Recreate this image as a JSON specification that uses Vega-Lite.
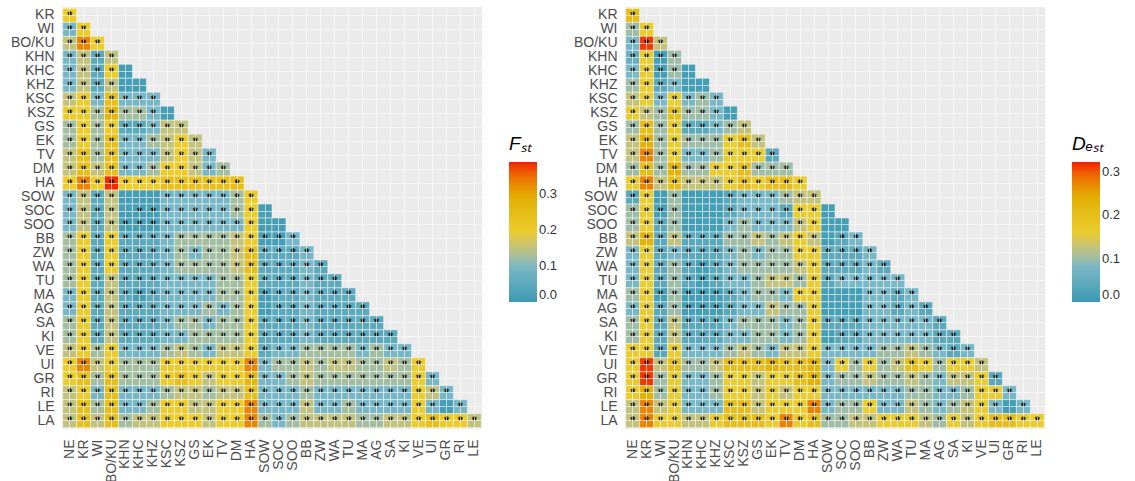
{
"$schema": "https://vega.github.io/schema/vega-lite/v6.json",
"padding": {"left": 10, "top": 7, "right": 5, "bottom": 0},
"background": "white",
"config": {
  "view": {"fill": "#EBEBEB", "stroke": null},
  "axis": {"labelFont": "Liberation Sans", "labelFontSize": 14, "labelColor": "#4D4D4D", "ticks": false, "domain": false, "title": null, "grid": true, "gridColor": "#FFFFFF", "gridWidth": 0.6, "labelPadding": 8},
  "legend": {"orient": "none", "legendX": 447, "legendY": 128, "gradientLength": 140, "gradientThickness": 28, "gradientStrokeWidth": 0, "titleFont": "Liberation Sans", "titleFontSize": 19, "titleFontStyle": "italic", "titleFontWeight": "normal", "titleColor": "black", "titlePadding": 8, "labelFont": "Liberation Sans", "labelFontSize": 13, "labelColor": "#333333", "labelOverlap": false, "labelOffset": 8, "padding": 0}
},
"datasets": {"pw": [
{"r":"KR","c":"NE","f":0.195,"fs":1,"d":0.2,"ds":1},
{"r":"WI","c":"NE","f":0.095,"fs":1,"d":0.1,"ds":1},
{"r":"WI","c":"KR","f":0.195,"fs":1,"d":0.16,"ds":1},
{"r":"BO/KU","c":"NE","f":0.15,"fs":1,"d":0.08,"ds":1},
{"r":"BO/KU","c":"KR","f":0.33,"fs":1,"d":0.315,"ds":1},
{"r":"BO/KU","c":"WI","f":0.195,"fs":1,"d":0.125,"ds":1},
{"r":"KHN","c":"NE","f":0.095,"fs":1,"d":0.06,"ds":1},
{"r":"KHN","c":"KR","f":0.15,"fs":1,"d":0.16,"ds":1},
{"r":"KHN","c":"WI","f":0.05,"fs":1,"d":0.01,"ds":1},
{"r":"KHN","c":"BO/KU","f":0.15,"fs":1,"d":0.1,"ds":1},
{"r":"KHC","c":"NE","f":0.095,"fs":1,"d":0.08,"ds":1},
{"r":"KHC","c":"KR","f":0.15,"fs":1,"d":0.16,"ds":1},
{"r":"KHC","c":"WI","f":0.05,"fs":1,"d":0.01,"ds":1},
{"r":"KHC","c":"BO/KU","f":0.195,"fs":1,"d":0.1,"ds":1},
{"r":"KHC","c":"KHN","f":0.015,"fs":0,"d":0.01,"ds":0},
{"r":"KHZ","c":"NE","f":0.095,"fs":1,"d":0.1,"ds":1},
{"r":"KHZ","c":"KR","f":0.15,"fs":1,"d":0.16,"ds":1},
{"r":"KHZ","c":"WI","f":0.05,"fs":1,"d":0.04,"ds":1},
{"r":"KHZ","c":"BO/KU","f":0.15,"fs":1,"d":0.08,"ds":1},
{"r":"KHZ","c":"KHN","f":0.015,"fs":0,"d":0.01,"ds":0},
{"r":"KHZ","c":"KHC","f":0.015,"fs":0,"d":0.01,"ds":0},
{"r":"KSC","c":"NE","f":0.15,"fs":1,"d":0.125,"ds":1},
{"r":"KSC","c":"KR","f":0.195,"fs":1,"d":0.16,"ds":1},
{"r":"KSC","c":"WI","f":0.095,"fs":1,"d":0.08,"ds":1},
{"r":"KSC","c":"BO/KU","f":0.24,"fs":1,"d":0.16,"ds":1},
{"r":"KSC","c":"KHN","f":0.095,"fs":1,"d":0.08,"ds":1},
{"r":"KSC","c":"KHC","f":0.095,"fs":1,"d":0.1,"ds":1},
{"r":"KSC","c":"KHZ","f":0.095,"fs":1,"d":0.08,"ds":1},
{"r":"KSZ","c":"NE","f":0.195,"fs":1,"d":0.16,"ds":1},
{"r":"KSZ","c":"KR","f":0.195,"fs":1,"d":0.125,"ds":1},
{"r":"KSZ","c":"WI","f":0.125,"fs":1,"d":0.1,"ds":1},
{"r":"KSZ","c":"BO/KU","f":0.27,"fs":1,"d":0.2,"ds":1},
{"r":"KSZ","c":"KHN","f":0.125,"fs":1,"d":0.1,"ds":1},
{"r":"KSZ","c":"KHC","f":0.125,"fs":1,"d":0.1,"ds":1},
{"r":"KSZ","c":"KHZ","f":0.095,"fs":1,"d":0.08,"ds":1},
{"r":"KSZ","c":"KSC","f":0.015,"fs":0,"d":0.01,"ds":0},
{"r":"GS","c":"NE","f":0.125,"fs":1,"d":0.1,"ds":1},
{"r":"GS","c":"KR","f":0.195,"fs":1,"d":0.2,"ds":1},
{"r":"GS","c":"WI","f":0.125,"fs":1,"d":0.1,"ds":1},
{"r":"GS","c":"BO/KU","f":0.195,"fs":1,"d":0.16,"ds":1},
{"r":"GS","c":"KHN","f":0.05,"fs":1,"d":0.04,"ds":1},
{"r":"GS","c":"KHC","f":0.05,"fs":1,"d":0.04,"ds":1},
{"r":"GS","c":"KHZ","f":0.095,"fs":1,"d":0.08,"ds":1},
{"r":"GS","c":"KSC","f":0.15,"fs":1,"d":0.1,"ds":1},
{"r":"GS","c":"KSZ","f":0.15,"fs":1,"d":0.125,"ds":1},
{"r":"EK","c":"NE","f":0.125,"fs":1,"d":0.125,"ds":1},
{"r":"EK","c":"KR","f":0.195,"fs":1,"d":0.235,"ds":1},
{"r":"EK","c":"WI","f":0.125,"fs":1,"d":0.1,"ds":1},
{"r":"EK","c":"BO/KU","f":0.24,"fs":1,"d":0.16,"ds":1},
{"r":"EK","c":"KHN","f":0.095,"fs":1,"d":0.1,"ds":1},
{"r":"EK","c":"KHC","f":0.095,"fs":1,"d":0.1,"ds":1},
{"r":"EK","c":"KHZ","f":0.125,"fs":1,"d":0.1,"ds":1},
{"r":"EK","c":"KSC","f":0.15,"fs":1,"d":0.16,"ds":1},
{"r":"EK","c":"KSZ","f":0.195,"fs":1,"d":0.2,"ds":1},
{"r":"EK","c":"GS","f":0.15,"fs":1,"d":0.125,"ds":1},
{"r":"TV","c":"NE","f":0.15,"fs":1,"d":0.125,"ds":1},
{"r":"TV","c":"KR","f":0.24,"fs":1,"d":0.275,"ds":1},
{"r":"TV","c":"WI","f":0.125,"fs":1,"d":0.1,"ds":1},
{"r":"TV","c":"BO/KU","f":0.24,"fs":1,"d":0.16,"ds":1},
{"r":"TV","c":"KHN","f":0.095,"fs":1,"d":0.08,"ds":1},
{"r":"TV","c":"KHC","f":0.095,"fs":1,"d":0.08,"ds":1},
{"r":"TV","c":"KHZ","f":0.095,"fs":1,"d":0.1,"ds":1},
{"r":"TV","c":"KSC","f":0.15,"fs":1,"d":0.16,"ds":1},
{"r":"TV","c":"KSZ","f":0.195,"fs":1,"d":0.16,"ds":1},
{"r":"TV","c":"GS","f":0.15,"fs":1,"d":0.16,"ds":1},
{"r":"TV","c":"EK","f":0.095,"fs":1,"d":0.04,"ds":1},
{"r":"DM","c":"NE","f":0.15,"fs":1,"d":0.1,"ds":1},
{"r":"DM","c":"KR","f":0.24,"fs":1,"d":0.2,"ds":1},
{"r":"DM","c":"WI","f":0.15,"fs":1,"d":0.1,"ds":1},
{"r":"DM","c":"BO/KU","f":0.24,"fs":1,"d":0.235,"ds":1},
{"r":"DM","c":"KHN","f":0.095,"fs":1,"d":0.1,"ds":1},
{"r":"DM","c":"KHC","f":0.095,"fs":1,"d":0.1,"ds":1},
{"r":"DM","c":"KHZ","f":0.125,"fs":1,"d":0.16,"ds":1},
{"r":"DM","c":"KSC","f":0.195,"fs":1,"d":0.16,"ds":1},
{"r":"DM","c":"KSZ","f":0.195,"fs":1,"d":0.2,"ds":1},
{"r":"DM","c":"GS","f":0.15,"fs":1,"d":0.1,"ds":1},
{"r":"DM","c":"EK","f":0.095,"fs":1,"d":0.1,"ds":1},
{"r":"DM","c":"TV","f":0.125,"fs":1,"d":0.1,"ds":1},
{"r":"HA","c":"NE","f":0.195,"fs":1,"d":0.16,"ds":1},
{"r":"HA","c":"KR","f":0.33,"fs":1,"d":0.275,"ds":1},
{"r":"HA","c":"WI","f":0.195,"fs":1,"d":0.125,"ds":1},
{"r":"HA","c":"BO/KU","f":0.385,"fs":1,"d":0.2,"ds":1},
{"r":"HA","c":"KHN","f":0.195,"fs":1,"d":0.125,"ds":1},
{"r":"HA","c":"KHC","f":0.195,"fs":1,"d":0.125,"ds":1},
{"r":"HA","c":"KHZ","f":0.195,"fs":1,"d":0.125,"ds":1},
{"r":"HA","c":"KSC","f":0.24,"fs":1,"d":0.16,"ds":1},
{"r":"HA","c":"KSZ","f":0.24,"fs":1,"d":0.2,"ds":1},
{"r":"HA","c":"GS","f":0.24,"fs":1,"d":0.16,"ds":1},
{"r":"HA","c":"EK","f":0.24,"fs":1,"d":0.2,"ds":1},
{"r":"HA","c":"TV","f":0.24,"fs":1,"d":0.2,"ds":1},
{"r":"HA","c":"DM","f":0.24,"fs":1,"d":0.16,"ds":1},
{"r":"SOW","c":"NE","f":0.095,"fs":1,"d":0.04,"ds":1},
{"r":"SOW","c":"KR","f":0.15,"fs":1,"d":0.16,"ds":1},
{"r":"SOW","c":"WI","f":0.05,"fs":1,"d":0.01,"ds":0},
{"r":"SOW","c":"BO/KU","f":0.15,"fs":1,"d":0.1,"ds":1},
{"r":"SOW","c":"KHN","f":0.015,"fs":0,"d":0.01,"ds":0},
{"r":"SOW","c":"KHC","f":0.015,"fs":0,"d":0.01,"ds":0},
{"r":"SOW","c":"KHZ","f":0.015,"fs":0,"d":0.01,"ds":0},
{"r":"SOW","c":"KSC","f":0.095,"fs":1,"d":0.04,"ds":1},
{"r":"SOW","c":"KSZ","f":0.095,"fs":1,"d":0.08,"ds":1},
{"r":"SOW","c":"GS","f":0.095,"fs":1,"d":0.08,"ds":1},
{"r":"SOW","c":"EK","f":0.095,"fs":1,"d":0.08,"ds":1},
{"r":"SOW","c":"TV","f":0.095,"fs":1,"d":0.1,"ds":1},
{"r":"SOW","c":"DM","f":0.125,"fs":1,"d":0.125,"ds":1},
{"r":"SOW","c":"HA","f":0.195,"fs":1,"d":0.125,"ds":1},
{"r":"SOC","c":"NE","f":0.095,"fs":1,"d":0.1,"ds":1},
{"r":"SOC","c":"KR","f":0.15,"fs":1,"d":0.16,"ds":1},
{"r":"SOC","c":"WI","f":0.05,"fs":1,"d":0.01,"ds":1},
{"r":"SOC","c":"BO/KU","f":0.15,"fs":1,"d":0.1,"ds":1},
{"r":"SOC","c":"KHN","f":0.015,"fs":0,"d":0.01,"ds":0},
{"r":"SOC","c":"KHC","f":0.015,"fs":1,"d":0.01,"ds":0},
{"r":"SOC","c":"KHZ","f":0.015,"fs":1,"d":0.01,"ds":0},
{"r":"SOC","c":"KSC","f":0.095,"fs":1,"d":0.04,"ds":1},
{"r":"SOC","c":"KSZ","f":0.095,"fs":1,"d":0.08,"ds":1},
{"r":"SOC","c":"GS","f":0.095,"fs":1,"d":0.08,"ds":1},
{"r":"SOC","c":"EK","f":0.095,"fs":1,"d":0.08,"ds":1},
{"r":"SOC","c":"TV","f":0.095,"fs":1,"d":0.04,"ds":1},
{"r":"SOC","c":"DM","f":0.125,"fs":1,"d":0.16,"ds":1},
{"r":"SOC","c":"HA","f":0.195,"fs":1,"d":0.16,"ds":1},
{"r":"SOC","c":"SOW","f":0.015,"fs":0,"d":0.01,"ds":0},
{"r":"SOO","c":"NE","f":0.095,"fs":1,"d":0.1,"ds":1},
{"r":"SOO","c":"KR","f":0.15,"fs":1,"d":0.16,"ds":1},
{"r":"SOO","c":"WI","f":0.05,"fs":1,"d":0.04,"ds":1},
{"r":"SOO","c":"BO/KU","f":0.15,"fs":1,"d":0.1,"ds":1},
{"r":"SOO","c":"KHN","f":0.015,"fs":1,"d":0.01,"ds":0},
{"r":"SOO","c":"KHC","f":0.015,"fs":1,"d":0.01,"ds":0},
{"r":"SOO","c":"KHZ","f":0.015,"fs":1,"d":0.01,"ds":0},
{"r":"SOO","c":"KSC","f":0.095,"fs":1,"d":0.08,"ds":1},
{"r":"SOO","c":"KSZ","f":0.095,"fs":1,"d":0.1,"ds":1},
{"r":"SOO","c":"GS","f":0.095,"fs":1,"d":0.08,"ds":1},
{"r":"SOO","c":"EK","f":0.095,"fs":1,"d":0.08,"ds":1},
{"r":"SOO","c":"TV","f":0.095,"fs":1,"d":0.08,"ds":1},
{"r":"SOO","c":"DM","f":0.095,"fs":1,"d":0.125,"ds":1},
{"r":"SOO","c":"HA","f":0.195,"fs":1,"d":0.16,"ds":1},
{"r":"SOO","c":"SOW","f":0.015,"fs":0,"d":0.01,"ds":0},
{"r":"SOO","c":"SOC","f":0.015,"fs":0,"d":0.01,"ds":0},
{"r":"BB","c":"NE","f":0.125,"fs":1,"d":0.125,"ds":1},
{"r":"BB","c":"KR","f":0.195,"fs":1,"d":0.235,"ds":1},
{"r":"BB","c":"WI","f":0.05,"fs":1,"d":0.04,"ds":1},
{"r":"BB","c":"BO/KU","f":0.195,"fs":1,"d":0.125,"ds":1},
{"r":"BB","c":"KHN","f":0.05,"fs":1,"d":0.04,"ds":1},
{"r":"BB","c":"KHC","f":0.05,"fs":1,"d":0.04,"ds":1},
{"r":"BB","c":"KHZ","f":0.05,"fs":1,"d":0.04,"ds":1},
{"r":"BB","c":"KSC","f":0.095,"fs":1,"d":0.1,"ds":1},
{"r":"BB","c":"KSZ","f":0.125,"fs":1,"d":0.1,"ds":1},
{"r":"BB","c":"GS","f":0.125,"fs":1,"d":0.125,"ds":1},
{"r":"BB","c":"EK","f":0.125,"fs":1,"d":0.1,"ds":1},
{"r":"BB","c":"TV","f":0.125,"fs":1,"d":0.125,"ds":1},
{"r":"BB","c":"DM","f":0.15,"fs":1,"d":0.16,"ds":1},
{"r":"BB","c":"HA","f":0.195,"fs":1,"d":0.125,"ds":1},
{"r":"BB","c":"SOW","f":0.015,"fs":1,"d":0.01,"ds":0},
{"r":"BB","c":"SOC","f":0.015,"fs":1,"d":0.04,"ds":1},
{"r":"BB","c":"SOO","f":0.095,"fs":1,"d":0.08,"ds":1},
{"r":"ZW","c":"NE","f":0.125,"fs":1,"d":0.08,"ds":1},
{"r":"ZW","c":"KR","f":0.195,"fs":1,"d":0.16,"ds":1},
{"r":"ZW","c":"WI","f":0.05,"fs":1,"d":0.04,"ds":1},
{"r":"ZW","c":"BO/KU","f":0.195,"fs":1,"d":0.08,"ds":1},
{"r":"ZW","c":"KHN","f":0.05,"fs":1,"d":0.04,"ds":1},
{"r":"ZW","c":"KHC","f":0.05,"fs":1,"d":0.04,"ds":1},
{"r":"ZW","c":"KHZ","f":0.05,"fs":1,"d":0.04,"ds":1},
{"r":"ZW","c":"KSC","f":0.095,"fs":1,"d":0.08,"ds":1},
{"r":"ZW","c":"KSZ","f":0.125,"fs":1,"d":0.1,"ds":1},
{"r":"ZW","c":"GS","f":0.095,"fs":1,"d":0.08,"ds":1},
{"r":"ZW","c":"EK","f":0.125,"fs":1,"d":0.1,"ds":1},
{"r":"ZW","c":"TV","f":0.125,"fs":1,"d":0.1,"ds":1},
{"r":"ZW","c":"DM","f":0.15,"fs":1,"d":0.16,"ds":1},
{"r":"ZW","c":"HA","f":0.24,"fs":1,"d":0.16,"ds":1},
{"r":"ZW","c":"SOW","f":0.05,"fs":1,"d":0.04,"ds":1},
{"r":"ZW","c":"SOC","f":0.05,"fs":1,"d":0.04,"ds":1},
{"r":"ZW","c":"SOO","f":0.05,"fs":1,"d":0.04,"ds":1},
{"r":"ZW","c":"BB","f":0.095,"fs":1,"d":0.08,"ds":1},
{"r":"WA","c":"NE","f":0.125,"fs":1,"d":0.08,"ds":1},
{"r":"WA","c":"KR","f":0.195,"fs":1,"d":0.16,"ds":1},
{"r":"WA","c":"WI","f":0.05,"fs":1,"d":0.04,"ds":1},
{"r":"WA","c":"BO/KU","f":0.195,"fs":1,"d":0.1,"ds":1},
{"r":"WA","c":"KHN","f":0.05,"fs":1,"d":0.04,"ds":1},
{"r":"WA","c":"KHC","f":0.05,"fs":1,"d":0.01,"ds":1},
{"r":"WA","c":"KHZ","f":0.05,"fs":1,"d":0.04,"ds":1},
{"r":"WA","c":"KSC","f":0.095,"fs":1,"d":0.08,"ds":1},
{"r":"WA","c":"KSZ","f":0.125,"fs":1,"d":0.1,"ds":1},
{"r":"WA","c":"GS","f":0.125,"fs":1,"d":0.1,"ds":1},
{"r":"WA","c":"EK","f":0.125,"fs":1,"d":0.1,"ds":1},
{"r":"WA","c":"TV","f":0.125,"fs":1,"d":0.1,"ds":1},
{"r":"WA","c":"DM","f":0.15,"fs":1,"d":0.125,"ds":1},
{"r":"WA","c":"HA","f":0.24,"fs":1,"d":0.16,"ds":1},
{"r":"WA","c":"SOW","f":0.05,"fs":1,"d":0.04,"ds":1},
{"r":"WA","c":"SOC","f":0.05,"fs":1,"d":0.04,"ds":1},
{"r":"WA","c":"SOO","f":0.05,"fs":1,"d":0.04,"ds":1},
{"r":"WA","c":"BB","f":0.095,"fs":1,"d":0.08,"ds":1},
{"r":"WA","c":"ZW","f":0.05,"fs":1,"d":0.04,"ds":1},
{"r":"TU","c":"NE","f":0.125,"fs":1,"d":0.08,"ds":1},
{"r":"TU","c":"KR","f":0.195,"fs":1,"d":0.16,"ds":1},
{"r":"TU","c":"WI","f":0.05,"fs":1,"d":0.04,"ds":1},
{"r":"TU","c":"BO/KU","f":0.15,"fs":1,"d":0.1,"ds":1},
{"r":"TU","c":"KHN","f":0.05,"fs":1,"d":0.04,"ds":1},
{"r":"TU","c":"KHC","f":0.05,"fs":1,"d":0.01,"ds":1},
{"r":"TU","c":"KHZ","f":0.05,"fs":1,"d":0.04,"ds":1},
{"r":"TU","c":"KSC","f":0.095,"fs":1,"d":0.08,"ds":1},
{"r":"TU","c":"KSZ","f":0.095,"fs":1,"d":0.08,"ds":1},
{"r":"TU","c":"GS","f":0.095,"fs":1,"d":0.1,"ds":1},
{"r":"TU","c":"EK","f":0.095,"fs":1,"d":0.125,"ds":1},
{"r":"TU","c":"TV","f":0.125,"fs":1,"d":0.125,"ds":1},
{"r":"TU","c":"DM","f":0.125,"fs":1,"d":0.1,"ds":1},
{"r":"TU","c":"HA","f":0.195,"fs":1,"d":0.16,"ds":1},
{"r":"TU","c":"SOW","f":0.05,"fs":1,"d":0.04,"ds":1},
{"r":"TU","c":"SOC","f":0.05,"fs":1,"d":0.08,"ds":1},
{"r":"TU","c":"SOO","f":0.05,"fs":1,"d":0.08,"ds":1},
{"r":"TU","c":"BB","f":0.095,"fs":1,"d":0.08,"ds":1},
{"r":"TU","c":"ZW","f":0.05,"fs":1,"d":0.08,"ds":1},
{"r":"TU","c":"WA","f":0.05,"fs":1,"d":0.08,"ds":1},
{"r":"MA","c":"NE","f":0.095,"fs":1,"d":0.1,"ds":1},
{"r":"MA","c":"KR","f":0.195,"fs":1,"d":0.16,"ds":1},
{"r":"MA","c":"WI","f":0.05,"fs":1,"d":0.01,"ds":1},
{"r":"MA","c":"BO/KU","f":0.15,"fs":1,"d":0.1,"ds":1},
{"r":"MA","c":"KHN","f":0.05,"fs":1,"d":0.01,"ds":1},
{"r":"MA","c":"KHC","f":0.015,"fs":1,"d":0.01,"ds":1},
{"r":"MA","c":"KHZ","f":0.05,"fs":1,"d":0.01,"ds":1},
{"r":"MA","c":"KSC","f":0.095,"fs":1,"d":0.04,"ds":1},
{"r":"MA","c":"KSZ","f":0.095,"fs":1,"d":0.08,"ds":1},
{"r":"MA","c":"GS","f":0.095,"fs":1,"d":0.1,"ds":1},
{"r":"MA","c":"EK","f":0.095,"fs":1,"d":0.1,"ds":1},
{"r":"MA","c":"TV","f":0.125,"fs":1,"d":0.08,"ds":1},
{"r":"MA","c":"DM","f":0.125,"fs":1,"d":0.16,"ds":1},
{"r":"MA","c":"HA","f":0.195,"fs":1,"d":0.16,"ds":1},
{"r":"MA","c":"SOW","f":0.015,"fs":1,"d":0.01,"ds":0},
{"r":"MA","c":"SOC","f":0.05,"fs":1,"d":0.01,"ds":0},
{"r":"MA","c":"SOO","f":0.05,"fs":1,"d":0.01,"ds":0},
{"r":"MA","c":"BB","f":0.095,"fs":1,"d":0.08,"ds":1},
{"r":"MA","c":"ZW","f":0.05,"fs":1,"d":0.08,"ds":1},
{"r":"MA","c":"WA","f":0.05,"fs":1,"d":0.04,"ds":1},
{"r":"MA","c":"TU","f":0.05,"fs":1,"d":0.08,"ds":1},
{"r":"AG","c":"NE","f":0.095,"fs":1,"d":0.08,"ds":1},
{"r":"AG","c":"KR","f":0.195,"fs":1,"d":0.16,"ds":1},
{"r":"AG","c":"WI","f":0.05,"fs":1,"d":0.04,"ds":1},
{"r":"AG","c":"BO/KU","f":0.15,"fs":1,"d":0.1,"ds":1},
{"r":"AG","c":"KHN","f":0.05,"fs":1,"d":0.01,"ds":1},
{"r":"AG","c":"KHC","f":0.05,"fs":1,"d":0.01,"ds":1},
{"r":"AG","c":"KHZ","f":0.05,"fs":1,"d":0.01,"ds":1},
{"r":"AG","c":"KSC","f":0.095,"fs":1,"d":0.04,"ds":1},
{"r":"AG","c":"KSZ","f":0.095,"fs":1,"d":0.08,"ds":1},
{"r":"AG","c":"GS","f":0.095,"fs":1,"d":0.08,"ds":1},
{"r":"AG","c":"EK","f":0.125,"fs":1,"d":0.125,"ds":1},
{"r":"AG","c":"TV","f":0.095,"fs":1,"d":0.1,"ds":1},
{"r":"AG","c":"DM","f":0.125,"fs":1,"d":0.1,"ds":1},
{"r":"AG","c":"HA","f":0.195,"fs":1,"d":0.16,"ds":1},
{"r":"AG","c":"SOW","f":0.015,"fs":0,"d":0.01,"ds":0},
{"r":"AG","c":"SOC","f":0.05,"fs":1,"d":0.01,"ds":0},
{"r":"AG","c":"SOO","f":0.05,"fs":1,"d":0.01,"ds":0},
{"r":"AG","c":"BB","f":0.095,"fs":1,"d":0.08,"ds":1},
{"r":"AG","c":"ZW","f":0.05,"fs":1,"d":0.08,"ds":1},
{"r":"AG","c":"WA","f":0.05,"fs":1,"d":0.04,"ds":1},
{"r":"AG","c":"TU","f":0.05,"fs":1,"d":0.08,"ds":1},
{"r":"AG","c":"MA","f":0.05,"fs":1,"d":0.04,"ds":1},
{"r":"SA","c":"NE","f":0.125,"fs":1,"d":0.1,"ds":1},
{"r":"SA","c":"KR","f":0.195,"fs":1,"d":0.16,"ds":1},
{"r":"SA","c":"WI","f":0.05,"fs":1,"d":0.04,"ds":1},
{"r":"SA","c":"BO/KU","f":0.15,"fs":1,"d":0.125,"ds":1},
{"r":"SA","c":"KHN","f":0.05,"fs":1,"d":0.04,"ds":1},
{"r":"SA","c":"KHC","f":0.05,"fs":1,"d":0.04,"ds":1},
{"r":"SA","c":"KHZ","f":0.05,"fs":1,"d":0.04,"ds":1},
{"r":"SA","c":"KSC","f":0.095,"fs":1,"d":0.08,"ds":1},
{"r":"SA","c":"KSZ","f":0.125,"fs":1,"d":0.1,"ds":1},
{"r":"SA","c":"GS","f":0.125,"fs":1,"d":0.1,"ds":1},
{"r":"SA","c":"EK","f":0.095,"fs":1,"d":0.1,"ds":1},
{"r":"SA","c":"TV","f":0.125,"fs":1,"d":0.08,"ds":1},
{"r":"SA","c":"DM","f":0.125,"fs":1,"d":0.1,"ds":1},
{"r":"SA","c":"HA","f":0.195,"fs":1,"d":0.16,"ds":1},
{"r":"SA","c":"SOW","f":0.05,"fs":1,"d":0.04,"ds":1},
{"r":"SA","c":"SOC","f":0.05,"fs":1,"d":0.04,"ds":1},
{"r":"SA","c":"SOO","f":0.05,"fs":1,"d":0.04,"ds":1},
{"r":"SA","c":"BB","f":0.095,"fs":1,"d":0.08,"ds":1},
{"r":"SA","c":"ZW","f":0.05,"fs":1,"d":0.08,"ds":1},
{"r":"SA","c":"WA","f":0.05,"fs":1,"d":0.08,"ds":1},
{"r":"SA","c":"TU","f":0.05,"fs":1,"d":0.08,"ds":1},
{"r":"SA","c":"MA","f":0.05,"fs":1,"d":0.08,"ds":1},
{"r":"SA","c":"AG","f":0.05,"fs":1,"d":0.04,"ds":1},
{"r":"KI","c":"NE","f":0.125,"fs":1,"d":0.1,"ds":1},
{"r":"KI","c":"KR","f":0.195,"fs":1,"d":0.16,"ds":1},
{"r":"KI","c":"WI","f":0.05,"fs":1,"d":0.04,"ds":1},
{"r":"KI","c":"BO/KU","f":0.15,"fs":1,"d":0.125,"ds":1},
{"r":"KI","c":"KHN","f":0.05,"fs":1,"d":0.04,"ds":1},
{"r":"KI","c":"KHC","f":0.05,"fs":1,"d":0.04,"ds":1},
{"r":"KI","c":"KHZ","f":0.05,"fs":1,"d":0.04,"ds":1},
{"r":"KI","c":"KSC","f":0.095,"fs":1,"d":0.08,"ds":1},
{"r":"KI","c":"KSZ","f":0.095,"fs":1,"d":0.08,"ds":1},
{"r":"KI","c":"GS","f":0.125,"fs":1,"d":0.1,"ds":1},
{"r":"KI","c":"EK","f":0.125,"fs":1,"d":0.1,"ds":1},
{"r":"KI","c":"TV","f":0.125,"fs":1,"d":0.08,"ds":1},
{"r":"KI","c":"DM","f":0.125,"fs":1,"d":0.1,"ds":1},
{"r":"KI","c":"HA","f":0.195,"fs":1,"d":0.16,"ds":1},
{"r":"KI","c":"SOW","f":0.05,"fs":1,"d":0.01,"ds":0},
{"r":"KI","c":"SOC","f":0.05,"fs":1,"d":0.04,"ds":1},
{"r":"KI","c":"SOO","f":0.05,"fs":1,"d":0.04,"ds":1},
{"r":"KI","c":"BB","f":0.095,"fs":1,"d":0.08,"ds":1},
{"r":"KI","c":"ZW","f":0.05,"fs":1,"d":0.08,"ds":1},
{"r":"KI","c":"WA","f":0.05,"fs":1,"d":0.08,"ds":1},
{"r":"KI","c":"TU","f":0.05,"fs":1,"d":0.08,"ds":1},
{"r":"KI","c":"MA","f":0.05,"fs":1,"d":0.08,"ds":1},
{"r":"KI","c":"AG","f":0.05,"fs":1,"d":0.04,"ds":1},
{"r":"KI","c":"SA","f":0.05,"fs":1,"d":0.04,"ds":1},
{"r":"VE","c":"NE","f":0.15,"fs":1,"d":0.16,"ds":1},
{"r":"VE","c":"KR","f":0.195,"fs":1,"d":0.16,"ds":1},
{"r":"VE","c":"WI","f":0.125,"fs":1,"d":0.04,"ds":1},
{"r":"VE","c":"BO/KU","f":0.195,"fs":1,"d":0.16,"ds":1},
{"r":"VE","c":"KHN","f":0.095,"fs":1,"d":0.08,"ds":1},
{"r":"VE","c":"KHC","f":0.095,"fs":1,"d":0.08,"ds":1},
{"r":"VE","c":"KHZ","f":0.095,"fs":1,"d":0.08,"ds":1},
{"r":"VE","c":"KSC","f":0.125,"fs":1,"d":0.1,"ds":1},
{"r":"VE","c":"KSZ","f":0.15,"fs":1,"d":0.125,"ds":1},
{"r":"VE","c":"GS","f":0.125,"fs":1,"d":0.1,"ds":1},
{"r":"VE","c":"EK","f":0.095,"fs":1,"d":0.08,"ds":1},
{"r":"VE","c":"TV","f":0.15,"fs":1,"d":0.125,"ds":1},
{"r":"VE","c":"DM","f":0.15,"fs":1,"d":0.125,"ds":1},
{"r":"VE","c":"HA","f":0.195,"fs":1,"d":0.16,"ds":1},
{"r":"VE","c":"SOW","f":0.05,"fs":1,"d":0.08,"ds":1},
{"r":"VE","c":"SOC","f":0.095,"fs":1,"d":0.08,"ds":1},
{"r":"VE","c":"SOO","f":0.095,"fs":1,"d":0.08,"ds":1},
{"r":"VE","c":"BB","f":0.125,"fs":1,"d":0.08,"ds":1},
{"r":"VE","c":"ZW","f":0.125,"fs":1,"d":0.1,"ds":1},
{"r":"VE","c":"WA","f":0.125,"fs":1,"d":0.1,"ds":1},
{"r":"VE","c":"TU","f":0.125,"fs":1,"d":0.125,"ds":1},
{"r":"VE","c":"MA","f":0.095,"fs":1,"d":0.1,"ds":1},
{"r":"VE","c":"AG","f":0.125,"fs":1,"d":0.08,"ds":1},
{"r":"VE","c":"SA","f":0.095,"fs":1,"d":0.04,"ds":1},
{"r":"VE","c":"KI","f":0.095,"fs":1,"d":0.08,"ds":1},
{"r":"UI","c":"NE","f":0.195,"fs":1,"d":0.16,"ds":1},
{"r":"UI","c":"KR","f":0.33,"fs":1,"d":0.315,"ds":1},
{"r":"UI","c":"WI","f":0.15,"fs":1,"d":0.125,"ds":1},
{"r":"UI","c":"BO/KU","f":0.195,"fs":1,"d":0.2,"ds":1},
{"r":"UI","c":"KHN","f":0.125,"fs":1,"d":0.1,"ds":1},
{"r":"UI","c":"KHC","f":0.125,"fs":1,"d":0.1,"ds":1},
{"r":"UI","c":"KHZ","f":0.125,"fs":1,"d":0.125,"ds":1},
{"r":"UI","c":"KSC","f":0.195,"fs":1,"d":0.2,"ds":1},
{"r":"UI","c":"KSZ","f":0.195,"fs":1,"d":0.2,"ds":1},
{"r":"UI","c":"GS","f":0.195,"fs":1,"d":0.2,"ds":1},
{"r":"UI","c":"EK","f":0.195,"fs":1,"d":0.235,"ds":1},
{"r":"UI","c":"TV","f":0.195,"fs":1,"d":0.2,"ds":1},
{"r":"UI","c":"DM","f":0.195,"fs":1,"d":0.2,"ds":1},
{"r":"UI","c":"HA","f":0.33,"fs":1,"d":0.235,"ds":1},
{"r":"UI","c":"SOW","f":0.095,"fs":1,"d":0.08,"ds":1},
{"r":"UI","c":"SOC","f":0.125,"fs":1,"d":0.16,"ds":1},
{"r":"UI","c":"SOO","f":0.125,"fs":1,"d":0.1,"ds":1},
{"r":"UI","c":"BB","f":0.15,"fs":1,"d":0.16,"ds":1},
{"r":"UI","c":"ZW","f":0.125,"fs":1,"d":0.1,"ds":1},
{"r":"UI","c":"WA","f":0.15,"fs":1,"d":0.125,"ds":1},
{"r":"UI","c":"TU","f":0.15,"fs":1,"d":0.2,"ds":1},
{"r":"UI","c":"MA","f":0.125,"fs":1,"d":0.16,"ds":1},
{"r":"UI","c":"AG","f":0.125,"fs":1,"d":0.1,"ds":1},
{"r":"UI","c":"SA","f":0.15,"fs":1,"d":0.16,"ds":1},
{"r":"UI","c":"KI","f":0.125,"fs":1,"d":0.16,"ds":1},
{"r":"UI","c":"VE","f":0.195,"fs":1,"d":0.125,"ds":1},
{"r":"GR","c":"NE","f":0.195,"fs":1,"d":0.16,"ds":1},
{"r":"GR","c":"KR","f":0.24,"fs":1,"d":0.315,"ds":1},
{"r":"GR","c":"WI","f":0.125,"fs":1,"d":0.1,"ds":1},
{"r":"GR","c":"BO/KU","f":0.24,"fs":1,"d":0.16,"ds":1},
{"r":"GR","c":"KHN","f":0.125,"fs":1,"d":0.08,"ds":1},
{"r":"GR","c":"KHC","f":0.125,"fs":1,"d":0.08,"ds":1},
{"r":"GR","c":"KHZ","f":0.125,"fs":1,"d":0.1,"ds":1},
{"r":"GR","c":"KSC","f":0.195,"fs":1,"d":0.16,"ds":1},
{"r":"GR","c":"KSZ","f":0.24,"fs":1,"d":0.16,"ds":1},
{"r":"GR","c":"GS","f":0.195,"fs":1,"d":0.125,"ds":1},
{"r":"GR","c":"EK","f":0.15,"fs":1,"d":0.16,"ds":1},
{"r":"GR","c":"TV","f":0.195,"fs":1,"d":0.16,"ds":1},
{"r":"GR","c":"DM","f":0.195,"fs":1,"d":0.2,"ds":1},
{"r":"GR","c":"HA","f":0.27,"fs":1,"d":0.235,"ds":1},
{"r":"GR","c":"SOW","f":0.095,"fs":1,"d":0.08,"ds":1},
{"r":"GR","c":"SOC","f":0.095,"fs":1,"d":0.1,"ds":1},
{"r":"GR","c":"SOO","f":0.125,"fs":1,"d":0.1,"ds":1},
{"r":"GR","c":"BB","f":0.15,"fs":1,"d":0.125,"ds":1},
{"r":"GR","c":"ZW","f":0.125,"fs":1,"d":0.1,"ds":1},
{"r":"GR","c":"WA","f":0.125,"fs":1,"d":0.1,"ds":1},
{"r":"GR","c":"TU","f":0.125,"fs":1,"d":0.125,"ds":1},
{"r":"GR","c":"MA","f":0.125,"fs":1,"d":0.1,"ds":1},
{"r":"GR","c":"AG","f":0.125,"fs":1,"d":0.08,"ds":1},
{"r":"GR","c":"SA","f":0.125,"fs":1,"d":0.125,"ds":1},
{"r":"GR","c":"KI","f":0.125,"fs":1,"d":0.125,"ds":1},
{"r":"GR","c":"VE","f":0.195,"fs":1,"d":0.16,"ds":1},
{"r":"GR","c":"UI","f":0.095,"fs":1,"d":0.04,"ds":1},
{"r":"RI","c":"NE","f":0.15,"fs":1,"d":0.16,"ds":1},
{"r":"RI","c":"KR","f":0.195,"fs":1,"d":0.235,"ds":1},
{"r":"RI","c":"WI","f":0.095,"fs":1,"d":0.1,"ds":1},
{"r":"RI","c":"BO/KU","f":0.24,"fs":1,"d":0.16,"ds":1},
{"r":"RI","c":"KHN","f":0.095,"fs":1,"d":0.08,"ds":1},
{"r":"RI","c":"KHC","f":0.095,"fs":1,"d":0.08,"ds":1},
{"r":"RI","c":"KHZ","f":0.095,"fs":1,"d":0.1,"ds":1},
{"r":"RI","c":"KSC","f":0.125,"fs":1,"d":0.16,"ds":1},
{"r":"RI","c":"KSZ","f":0.15,"fs":1,"d":0.16,"ds":1},
{"r":"RI","c":"GS","f":0.15,"fs":1,"d":0.125,"ds":1},
{"r":"RI","c":"EK","f":0.125,"fs":1,"d":0.16,"ds":1},
{"r":"RI","c":"TV","f":0.15,"fs":1,"d":0.125,"ds":1},
{"r":"RI","c":"DM","f":0.15,"fs":1,"d":0.16,"ds":1},
{"r":"RI","c":"HA","f":0.24,"fs":1,"d":0.16,"ds":1},
{"r":"RI","c":"SOW","f":0.095,"fs":1,"d":0.08,"ds":1},
{"r":"RI","c":"SOC","f":0.095,"fs":1,"d":0.08,"ds":1},
{"r":"RI","c":"SOO","f":0.095,"fs":1,"d":0.08,"ds":1},
{"r":"RI","c":"BB","f":0.125,"fs":1,"d":0.08,"ds":1},
{"r":"RI","c":"ZW","f":0.095,"fs":1,"d":0.08,"ds":1},
{"r":"RI","c":"WA","f":0.095,"fs":1,"d":0.08,"ds":1},
{"r":"RI","c":"TU","f":0.095,"fs":1,"d":0.1,"ds":1},
{"r":"RI","c":"MA","f":0.095,"fs":1,"d":0.1,"ds":1},
{"r":"RI","c":"AG","f":0.095,"fs":1,"d":0.08,"ds":1},
{"r":"RI","c":"SA","f":0.095,"fs":1,"d":0.08,"ds":1},
{"r":"RI","c":"KI","f":0.095,"fs":1,"d":0.1,"ds":1},
{"r":"RI","c":"VE","f":0.195,"fs":1,"d":0.16,"ds":1},
{"r":"RI","c":"UI","f":0.15,"fs":1,"d":0.16,"ds":1},
{"r":"RI","c":"GR","f":0.095,"fs":1,"d":0.08,"ds":1},
{"r":"LE","c":"NE","f":0.15,"fs":1,"d":0.125,"ds":1},
{"r":"LE","c":"KR","f":0.24,"fs":1,"d":0.275,"ds":1},
{"r":"LE","c":"WI","f":0.125,"fs":1,"d":0.125,"ds":1},
{"r":"LE","c":"BO/KU","f":0.24,"fs":1,"d":0.16,"ds":1},
{"r":"LE","c":"KHN","f":0.095,"fs":1,"d":0.08,"ds":1},
{"r":"LE","c":"KHC","f":0.095,"fs":1,"d":0.08,"ds":1},
{"r":"LE","c":"KHZ","f":0.125,"fs":1,"d":0.08,"ds":1},
{"r":"LE","c":"KSC","f":0.195,"fs":1,"d":0.2,"ds":1},
{"r":"LE","c":"KSZ","f":0.195,"fs":1,"d":0.2,"ds":1},
{"r":"LE","c":"GS","f":0.15,"fs":1,"d":0.125,"ds":1},
{"r":"LE","c":"EK","f":0.15,"fs":1,"d":0.16,"ds":1},
{"r":"LE","c":"TV","f":0.195,"fs":1,"d":0.16,"ds":1},
{"r":"LE","c":"DM","f":0.195,"fs":1,"d":0.16,"ds":1},
{"r":"LE","c":"HA","f":0.33,"fs":1,"d":0.275,"ds":1},
{"r":"LE","c":"SOW","f":0.095,"fs":1,"d":0.08,"ds":1},
{"r":"LE","c":"SOC","f":0.095,"fs":1,"d":0.1,"ds":1},
{"r":"LE","c":"SOO","f":0.095,"fs":1,"d":0.1,"ds":1},
{"r":"LE","c":"BB","f":0.15,"fs":1,"d":0.16,"ds":1},
{"r":"LE","c":"ZW","f":0.095,"fs":1,"d":0.08,"ds":1},
{"r":"LE","c":"WA","f":0.095,"fs":1,"d":0.08,"ds":1},
{"r":"LE","c":"TU","f":0.125,"fs":1,"d":0.125,"ds":1},
{"r":"LE","c":"MA","f":0.095,"fs":1,"d":0.1,"ds":1},
{"r":"LE","c":"AG","f":0.095,"fs":1,"d":0.08,"ds":1},
{"r":"LE","c":"SA","f":0.095,"fs":1,"d":0.1,"ds":1},
{"r":"LE","c":"KI","f":0.095,"fs":1,"d":0.125,"ds":1},
{"r":"LE","c":"VE","f":0.195,"fs":1,"d":0.16,"ds":1},
{"r":"LE","c":"UI","f":0.095,"fs":1,"d":0.08,"ds":1},
{"r":"LE","c":"GR","f":0.015,"fs":0,"d":0.01,"ds":0},
{"r":"LE","c":"RI","f":0.095,"fs":1,"d":0.08,"ds":1},
{"r":"LA","c":"NE","f":0.15,"fs":1,"d":0.125,"ds":1},
{"r":"LA","c":"KR","f":0.24,"fs":1,"d":0.275,"ds":1},
{"r":"LA","c":"WI","f":0.15,"fs":1,"d":0.16,"ds":1},
{"r":"LA","c":"BO/KU","f":0.24,"fs":1,"d":0.16,"ds":1},
{"r":"LA","c":"KHN","f":0.125,"fs":1,"d":0.125,"ds":1},
{"r":"LA","c":"KHC","f":0.15,"fs":1,"d":0.125,"ds":1},
{"r":"LA","c":"KHZ","f":0.15,"fs":1,"d":0.16,"ds":1},
{"r":"LA","c":"KSC","f":0.195,"fs":1,"d":0.2,"ds":1},
{"r":"LA","c":"KSZ","f":0.195,"fs":1,"d":0.2,"ds":1},
{"r":"LA","c":"GS","f":0.195,"fs":1,"d":0.2,"ds":1},
{"r":"LA","c":"EK","f":0.15,"fs":1,"d":0.16,"ds":1},
{"r":"LA","c":"TV","f":0.195,"fs":1,"d":0.275,"ds":1},
{"r":"LA","c":"DM","f":0.195,"fs":1,"d":0.16,"ds":1},
{"r":"LA","c":"HA","f":0.33,"fs":1,"d":0.2,"ds":1},
{"r":"LA","c":"SOW","f":0.125,"fs":1,"d":0.1,"ds":1},
{"r":"LA","c":"SOC","f":0.095,"fs":1,"d":0.1,"ds":1},
{"r":"LA","c":"SOO","f":0.125,"fs":1,"d":0.125,"ds":1},
{"r":"LA","c":"BB","f":0.15,"fs":1,"d":0.125,"ds":1},
{"r":"LA","c":"ZW","f":0.15,"fs":1,"d":0.16,"ds":1},
{"r":"LA","c":"WA","f":0.15,"fs":1,"d":0.16,"ds":1},
{"r":"LA","c":"TU","f":0.15,"fs":1,"d":0.16,"ds":1},
{"r":"LA","c":"MA","f":0.125,"fs":1,"d":0.125,"ds":1},
{"r":"LA","c":"AG","f":0.125,"fs":1,"d":0.1,"ds":1},
{"r":"LA","c":"SA","f":0.15,"fs":1,"d":0.16,"ds":1},
{"r":"LA","c":"KI","f":0.15,"fs":1,"d":0.125,"ds":1},
{"r":"LA","c":"VE","f":0.195,"fs":1,"d":0.16,"ds":1},
{"r":"LA","c":"UI","f":0.24,"fs":1,"d":0.2,"ds":1},
{"r":"LA","c":"GR","f":0.195,"fs":1,"d":0.2,"ds":1},
{"r":"LA","c":"RI","f":0.195,"fs":1,"d":0.16,"ds":1},
{"r":"LA","c":"LE","f":0.15,"fs":1,"d":0.16,"ds":1}
]},
"spacing": 15,
"resolve": {"scale": {"color": "independent"}},
"hconcat": [
{
  "width": 420, "height": 422,
  "data": {"name": "pw"},
  "encoding": {
    "x": {"field": "c", "type": "nominal", "sort": ["NE","KR","WI","BO/KU","KHN","KHC","KHZ","KSC","KSZ","GS","EK","TV","DM","HA","SOW","SOC","SOO","BB","ZW","WA","TU","MA","AG","SA","KI","VE","UI","GR","RI","LE"], "scale": {"paddingInner": 0, "paddingOuter": 0.05}, "axis": {"labelAngle": 270, "bandPosition": 0.5, "labelPadding": 10}},
    "y": {"field": "r", "type": "nominal", "sort": ["KR","WI","BO/KU","KHN","KHC","KHZ","KSC","KSZ","GS","EK","TV","DM","HA","SOW","SOC","SOO","BB","ZW","WA","TU","MA","AG","SA","KI","VE","UI","GR","RI","LE","LA"], "scale": {"paddingInner": 0, "paddingOuter": 0.1}, "axis": {"bandPosition": 0.5}}
  },
  "layer": [
    {"mark": {"type": "rect", "stroke": "#FFFFFF", "strokeWidth": 0.6, "strokeOpacity": 0.8},
     "encoding": {"color": {"field": "f", "type": "quantitative", "scale": {"domain": [0, 0.0975, 0.195, 0.2925, 0.39], "range": ["#3B9AB2", "#78B7C5", "#EBCC2A", "#E1AF00", "#F21A00"], "interpolate": "lab"}, "legend": {"title": "Fₛₜ", "values": [0, 0.1, 0.2, 0.3], "format": ".1f"}}}},
    {"transform": [{"filter": "datum.fs == 1"}],
     "mark": {"type": "text", "text": "*", "font": "Liberation Sans", "fontSize": 13, "fontWeight": "bold", "color": "#000000", "baseline": "middle", "dy": 0.5}}
  ]
},
{
  "width": 420, "height": 422,
  "data": {"name": "pw"},
  "encoding": {
    "x": {"field": "c", "type": "nominal", "sort": ["NE","KR","WI","BO/KU","KHN","KHC","KHZ","KSC","KSZ","GS","EK","TV","DM","HA","SOW","SOC","SOO","BB","ZW","WA","TU","MA","AG","SA","KI","VE","UI","GR","RI","LE"], "scale": {"paddingInner": 0, "paddingOuter": 0.05}, "axis": {"labelAngle": 270, "bandPosition": 0.5, "labelPadding": 10}},
    "y": {"field": "r", "type": "nominal", "sort": ["KR","WI","BO/KU","KHN","KHC","KHZ","KSC","KSZ","GS","EK","TV","DM","HA","SOW","SOC","SOO","BB","ZW","WA","TU","MA","AG","SA","KI","VE","UI","GR","RI","LE","LA"], "scale": {"paddingInner": 0, "paddingOuter": 0.1}, "axis": {"bandPosition": 0.5}}
  },
  "layer": [
    {"mark": {"type": "rect", "stroke": "#FFFFFF", "strokeWidth": 0.6, "strokeOpacity": 0.8},
     "encoding": {"color": {"field": "d", "type": "quantitative", "scale": {"domain": [0, 0.08075, 0.1615, 0.24225, 0.323], "range": ["#3B9AB2", "#78B7C5", "#EBCC2A", "#E1AF00", "#F21A00"], "interpolate": "lab"}, "legend": {"title": "Dₑₛₜ", "values": [0, 0.1, 0.2, 0.3], "format": ".1f"}}}},
    {"transform": [{"filter": "datum.ds == 1"}],
     "mark": {"type": "text", "text": "*", "font": "Liberation Sans", "fontSize": 13, "fontWeight": "bold", "color": "#000000", "baseline": "middle", "dy": 0.5}}
  ]
}
]
}
